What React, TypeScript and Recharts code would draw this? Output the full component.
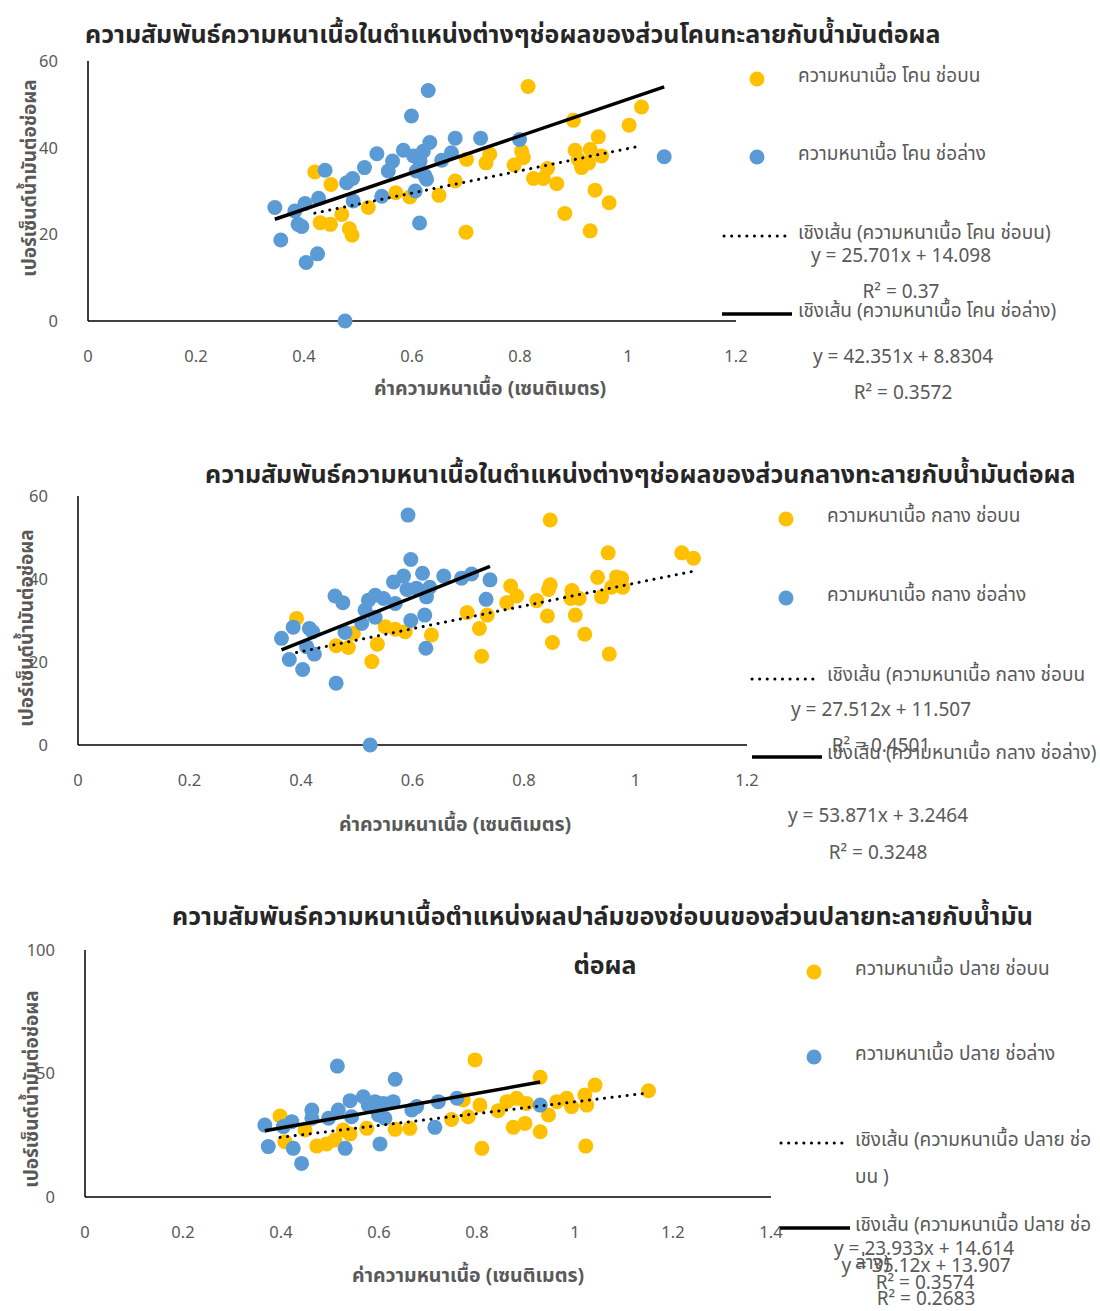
import React from 'react';
import { ScatterChart, Scatter, XAxis, YAxis } from 'recharts';

type Pt = { x: number; y: number };
type Fit = { slope: number; intercept: number };

const FONT = "'Noto Sans Thai', 'Leelawadee UI', 'Noto Sans', Tahoma, sans-serif";
const ORANGE = '#FFC000';
const BLUE = '#5B9BD5';
const GREY = '#595959';

// ส่วนโคนทะลาย (base of bunch)
const baseTop: Pt[] = [
  { x: 0.42, y: 34.4 }, { x: 0.45, y: 31.5 }, { x: 0.43, y: 22.7 }, { x: 0.449, y: 22.3 },
  { x: 0.47, y: 24.6 }, { x: 0.484, y: 21.3 }, { x: 0.489, y: 19.8 }, { x: 0.519, y: 26.2 },
  { x: 0.57, y: 29.6 }, { x: 0.596, y: 28.6 }, { x: 0.65, y: 29.0 }, { x: 0.68, y: 32.3 },
  { x: 0.701, y: 37.3 }, { x: 0.7, y: 20.5 }, { x: 0.737, y: 36.5 }, { x: 0.744, y: 38.5 },
  { x: 0.789, y: 36.0 }, { x: 0.803, y: 39.2 }, { x: 0.806, y: 37.7 }, { x: 0.815, y: 54.1 },
  { x: 0.825, y: 32.9 }, { x: 0.843, y: 32.9 }, { x: 0.851, y: 35.2 }, { x: 0.868, y: 31.7 },
  { x: 0.883, y: 24.8 }, { x: 0.899, y: 46.3 }, { x: 0.902, y: 39.4 }, { x: 0.908, y: 37.3 },
  { x: 0.914, y: 35.4 }, { x: 0.927, y: 36.5 }, { x: 0.93, y: 39.6 }, { x: 0.939, y: 30.2 },
  { x: 0.93, y: 20.8 }, { x: 0.945, y: 42.5 }, { x: 0.951, y: 38.1 }, { x: 0.965, y: 27.3 },
  { x: 1.002, y: 45.2 }, { x: 1.025, y: 49.4 },
];
const baseBottom: Pt[] = [
  { x: 0.346, y: 26.2 }, { x: 0.357, y: 18.7 }, { x: 0.383, y: 25.4 }, { x: 0.389, y: 22.3 },
  { x: 0.396, y: 21.8 }, { x: 0.402, y: 27.1 }, { x: 0.404, y: 13.5 }, { x: 0.425, y: 15.5 },
  { x: 0.427, y: 28.3 }, { x: 0.439, y: 34.8 }, { x: 0.479, y: 31.9 }, { x: 0.49, y: 32.9 },
  { x: 0.491, y: 27.7 }, { x: 0.512, y: 35.4 }, { x: 0.535, y: 38.6 }, { x: 0.544, y: 28.8 },
  { x: 0.556, y: 34.6 }, { x: 0.564, y: 36.9 }, { x: 0.584, y: 39.4 }, { x: 0.599, y: 47.3 },
  { x: 0.603, y: 38.1 }, { x: 0.614, y: 22.6 }, { x: 0.606, y: 30.0 }, { x: 0.615, y: 36.9 },
  { x: 0.624, y: 33.5 }, { x: 0.621, y: 39.2 }, { x: 0.63, y: 53.2 }, { x: 0.633, y: 41.2 },
  { x: 0.655, y: 37.1 }, { x: 0.673, y: 38.8 }, { x: 0.68, y: 42.2 }, { x: 0.727, y: 42.2 },
  { x: 0.799, y: 41.9 }, { x: 1.067, y: 37.9 }, { x: 0.608, y: 34.6 }, { x: 0.627, y: 32.7 },
  { x: 0.476, y: 0 },
];
const baseTopFit: Fit = { slope: 25.701, intercept: 14.098 };
const baseBottomFit: Fit = { slope: 42.351, intercept: 8.8304 };

// ส่วนกลางทะลาย (middle of bunch)
const midTop: Pt[] = [
  { x: 0.392, y: 30.5 }, { x: 0.463, y: 23.9 }, { x: 0.485, y: 23.5 }, { x: 0.494, y: 26.9 },
  { x: 0.527, y: 20.1 }, { x: 0.537, y: 24.3 }, { x: 0.551, y: 28.5 }, { x: 0.569, y: 27.9 },
  { x: 0.587, y: 27.3 }, { x: 0.634, y: 26.5 }, { x: 0.698, y: 31.9 }, { x: 0.72, y: 28.1 },
  { x: 0.724, y: 21.4 }, { x: 0.734, y: 31.3 }, { x: 0.769, y: 34.3 }, { x: 0.776, y: 38.3 },
  { x: 0.787, y: 35.9 }, { x: 0.823, y: 34.8 }, { x: 0.842, y: 31.1 }, { x: 0.844, y: 37.5 },
  { x: 0.847, y: 38.6 }, { x: 0.847, y: 54.2 }, { x: 0.851, y: 24.7 }, { x: 0.886, y: 37.2 },
  { x: 0.884, y: 35.3 }, { x: 0.892, y: 31.3 }, { x: 0.899, y: 35.3 }, { x: 0.909, y: 26.7 },
  { x: 0.932, y: 40.4 }, { x: 0.939, y: 35.7 }, { x: 0.951, y: 46.3 }, { x: 0.953, y: 21.9 },
  { x: 0.957, y: 38.0 }, { x: 0.966, y: 40.5 }, { x: 0.975, y: 40.2 }, { x: 0.977, y: 38.0 },
  { x: 1.083, y: 46.3 }, { x: 1.104, y: 45.0 },
];
const midBottom: Pt[] = [
  { x: 0.365, y: 25.7 }, { x: 0.379, y: 20.6 }, { x: 0.386, y: 28.4 }, { x: 0.403, y: 18.2 },
  { x: 0.415, y: 28.1 }, { x: 0.421, y: 27.3 }, { x: 0.41, y: 23.7 }, { x: 0.424, y: 21.9 },
  { x: 0.461, y: 35.9 }, { x: 0.463, y: 14.9 }, { x: 0.475, y: 34.3 }, { x: 0.479, y: 27.1 },
  { x: 0.509, y: 29.3 }, { x: 0.515, y: 32.5 }, { x: 0.521, y: 34.9 }, { x: 0.533, y: 36.1 },
  { x: 0.533, y: 30.8 }, { x: 0.548, y: 35.3 }, { x: 0.566, y: 39.3 }, { x: 0.569, y: 34.1 },
  { x: 0.584, y: 40.7 }, { x: 0.59, y: 37.5 }, { x: 0.592, y: 55.4 }, { x: 0.597, y: 44.7 },
  { x: 0.597, y: 30.0 }, { x: 0.607, y: 37.8 }, { x: 0.618, y: 41.4 }, { x: 0.622, y: 31.3 },
  { x: 0.625, y: 35.7 }, { x: 0.624, y: 23.3 }, { x: 0.631, y: 38.0 }, { x: 0.656, y: 40.7 },
  { x: 0.688, y: 40.2 }, { x: 0.706, y: 41.2 }, { x: 0.732, y: 35.1 }, { x: 0.739, y: 39.8 },
  { x: 0.524, y: 0 },
];
const midTopFit: Fit = { slope: 27.512, intercept: 11.507 };
const midBottomFit: Fit = { slope: 53.871, intercept: 3.2464 };

// ส่วนปลายทะลาย (tip of bunch)
const tipTop: Pt[] = [
  { x: 0.398, y: 32.8 }, { x: 0.408, y: 22.4 }, { x: 0.449, y: 27.1 }, { x: 0.473, y: 20.6 },
  { x: 0.493, y: 21.5 }, { x: 0.51, y: 23.1 }, { x: 0.527, y: 27.1 }, { x: 0.541, y: 25.5 },
  { x: 0.575, y: 27.8 }, { x: 0.633, y: 27.4 }, { x: 0.663, y: 27.8 }, { x: 0.748, y: 31.4 },
  { x: 0.772, y: 39.3 }, { x: 0.782, y: 32.5 }, { x: 0.796, y: 55.5 }, { x: 0.806, y: 37.2 },
  { x: 0.81, y: 19.7 }, { x: 0.843, y: 34.9 }, { x: 0.861, y: 38.6 }, { x: 0.874, y: 28.2 },
  { x: 0.881, y: 40.0 }, { x: 0.898, y: 29.8 }, { x: 0.901, y: 37.9 }, { x: 0.929, y: 48.5 },
  { x: 0.929, y: 26.4 }, { x: 0.946, y: 33.2 }, { x: 0.963, y: 38.6 }, { x: 0.983, y: 40.0 },
  { x: 0.993, y: 36.6 }, { x: 1.02, y: 41.3 }, { x: 1.024, y: 37.2 }, { x: 1.022, y: 20.6 },
  { x: 1.041, y: 45.3 }, { x: 1.15, y: 43.0 },
];
const tipBottom: Pt[] = [
  { x: 0.367, y: 29.1 }, { x: 0.374, y: 20.4 }, { x: 0.405, y: 28.5 }, { x: 0.422, y: 30.5 },
  { x: 0.425, y: 19.7 }, { x: 0.442, y: 13.6 }, { x: 0.463, y: 35.2 }, { x: 0.463, y: 31.9 },
  { x: 0.497, y: 31.9 }, { x: 0.515, y: 53.0 }, { x: 0.517, y: 35.2 }, { x: 0.531, y: 19.7 },
  { x: 0.541, y: 39.0 }, { x: 0.544, y: 32.5 }, { x: 0.568, y: 40.6 }, { x: 0.578, y: 37.2 },
  { x: 0.592, y: 38.6 }, { x: 0.599, y: 33.2 }, { x: 0.602, y: 21.5 }, { x: 0.609, y: 37.9 },
  { x: 0.629, y: 38.6 }, { x: 0.633, y: 47.7 }, { x: 0.612, y: 31.9 }, { x: 0.667, y: 35.2 },
  { x: 0.677, y: 36.6 }, { x: 0.714, y: 28.2 }, { x: 0.721, y: 38.6 }, { x: 0.759, y: 40.0 },
  { x: 0.929, y: 37.2 },
];
const tipTopFit: Fit = { slope: 23.933, intercept: 14.614 };
const tipBottomFit: Fit = { slope: 35.12, intercept: 13.907 };

const ticks12 = [0, 0.2, 0.4, 0.6, 0.8, 1, 1.2];
const ticks14 = [0, 0.2, 0.4, 0.6, 0.8, 1, 1.2, 1.4];
const ticks60 = [0, 20, 40, 60];
const ticks100 = [0, 50, 100];

// straight segment of a linear fit, spanning the x-range of its series
function fitLine(points: Pt[], fit: Fit): Pt[] {
  const xs = points.map((p) => p.x);
  const x0 = Math.min(...xs);
  const x1 = Math.max(...xs);
  return [
    { x: x0, y: fit.slope * x0 + fit.intercept },
    { x: x1, y: fit.slope * x1 + fit.intercept },
  ];
}

const dot = (color: string) => (p: any) => <circle cx={p.cx} cy={p.cy} r={7.5} fill={color} />;
const noDot = () => <g />;

type PanelProps = {
  top: number;
  height: number;
  plot: { left: number; right: number; top: number; bottom: number };
  xMax: number;
  xTicks: number[];
  yMax: number;
  yTicks: number[];
  upper: Pt[];
  lower: Pt[];
  upperFit: Fit;
  lowerFit: Fit;
};

function Panel({ top, height, plot, xMax, xTicks, yMax, yTicks, upper, lower, upperFit, lowerFit }: PanelProps) {
  const yAxisW = 60;
  const xAxisH = 40;
  const margin = {
    top: plot.top - top,
    left: plot.left - yAxisW,
    right: 1100 - plot.right,
    bottom: top + height - plot.bottom - xAxisH,
  };
  const axisLine = { stroke: '#000', strokeWidth: 1.5 };
  const tick = { fill: GREY, fontSize: 16.5, fontFamily: FONT };
  return (
    <div style={{ position: 'absolute', left: 0, top, width: 1100, height }}>
      <ScatterChart width={1100} height={height} margin={margin}>
        <XAxis
          type="number"
          dataKey="x"
          domain={[0, xMax]}
          ticks={xTicks}
          interval={0}
          height={xAxisH}
          tickLine={false}
          axisLine={axisLine}
          tick={tick}
          tickMargin={23}
          tickFormatter={(v: number) => String(v)}
        />
        <YAxis
          type="number"
          dataKey="y"
          domain={[0, yMax]}
          ticks={yTicks}
          interval={0}
          width={yAxisW}
          tickLine={false}
          axisLine={axisLine}
          tick={tick}
          tickMargin={24}
        />
        <Scatter data={upper} fill={ORANGE} shape={dot(ORANGE)} isAnimationActive={false} />
        <Scatter data={lower} fill={BLUE} shape={dot(BLUE)} isAnimationActive={false} />
        <Scatter
          data={fitLine(upper, upperFit)}
          shape={noDot}
          line={{ stroke: '#000', strokeWidth: 3, strokeDasharray: '0.1 7.5', strokeLinecap: 'round' }}
          isAnimationActive={false}
        />
        <Scatter
          data={fitLine(lower, lowerFit)}
          shape={noDot}
          line={{ stroke: '#000', strokeWidth: 3.5 }}
          isAnimationActive={false}
        />
      </ScatterChart>
    </div>
  );
}

type TxtProps = {
  x: number;
  y: number;
  size?: number;
  bold?: boolean;
  color?: string;
  center?: boolean;
  children: React.ReactNode;
};

function Txt({ x, y, size = 19, bold = false, color = GREY, center = false, children }: TxtProps) {
  return (
    <div
      style={{
        position: 'absolute',
        left: x,
        top: y,
        transform: center ? 'translate(-50%, -50%)' : 'translateY(-50%)',
        fontSize: size,
        fontWeight: bold ? 700 : 400,
        color,
        whiteSpace: 'nowrap',
        lineHeight: 1,
      }}
    >
      {children}
    </div>
  );
}

function VTitle({ x, y }: { x: number; y: number }) {
  return (
    <div
      style={{
        position: 'absolute',
        left: x,
        top: y,
        transform: 'translate(-50%, -50%) rotate(-90deg)',
        fontSize: 19,
        fontWeight: 700,
        color: GREY,
        whiteSpace: 'nowrap',
        lineHeight: 1,
      }}
    >
      เปอร์เซ็นต์น้ำมันต่อช่อผล
    </div>
  );
}

function Marker({ x, y, color }: { x: number; y: number; color: string }) {
  return (
    <svg style={{ position: 'absolute', left: x - 8, top: y - 8 }} width={16} height={16}>
      <circle cx={8} cy={8} r={7.5} fill={color} />
    </svg>
  );
}

function LegendLine({ x1, x2, y, dotted }: { x1: number; x2: number; y: number; dotted?: boolean }) {
  return (
    <svg style={{ position: 'absolute', left: x1, top: y - 3 }} width={x2 - x1} height={6}>
      {dotted ? (
        <line x1={2} y1={3} x2={x2 - x1 - 2} y2={3} stroke="#000" strokeWidth={3} strokeDasharray="0.1 7.5" strokeLinecap="round" />
      ) : (
        <line x1={0} y1={3} x2={x2 - x1} y2={3} stroke="#000" strokeWidth={3.5} />
      )}
    </svg>
  );
}

const xTitle = 'ค่าความหนาเนื้อ (เซนติเมตร)';
const TITLE = '#262626';

export default function App() {
  return (
    <div
      style={{
        position: 'absolute',
        left: 0,
        top: 0,
        width: 1100,
        height: 1311,
        background: '#fff',
        fontFamily: FONT,
        overflow: 'hidden',
      }}
    >
      {/* chart 1: base */}
      <Panel
        top={0}
        height={440}
        plot={{ left: 88, right: 736, top: 61, bottom: 321 }}
        xMax={1.2}
        xTicks={ticks12}
        yMax={60}
        yTicks={ticks60}
        upper={baseTop}
        lower={baseBottom}
        upperFit={baseTopFit}
        lowerFit={baseBottomFit}
      />
      <Txt x={85} y={35} size={25} bold color={TITLE}>
        ความสัมพันธ์ความหนาเนื้อในตำแหน่งต่างๆช่อผลของส่วนโคนทะลายกับน้ำมันต่อผล
      </Txt>
      <VTitle x={30} y={178} />
      <Txt x={490} y={390} size={19.5} bold center>{xTitle}</Txt>
      <Marker x={757} y={79} color={ORANGE} />
      <Txt x={798} y={76}>ความหนาเนื้อ โคน ช่อบน</Txt>
      <Marker x={757} y={157} color={BLUE} />
      <Txt x={798} y={154}>ความหนาเนื้อ โคน ช่อล่าง</Txt>
      <LegendLine x1={722} x2={792} y={236} dotted />
      <Txt x={798} y={233}>เชิงเส้น (ความหนาเนื้อ โคน ช่อบน)</Txt>
      <Txt x={901} y={256} center>y = 25.701x + 14.098</Txt>
      <Txt x={901} y={292} center>R² = 0.37</Txt>
      <LegendLine x1={722} x2={792} y={314} />
      <Txt x={798} y={311}>เชิงเส้น (ความหนาเนื้อ โคน ช่อล่าง)</Txt>
      <Txt x={903} y={357} center>y = 42.351x + 8.8304</Txt>
      <Txt x={903} y={393} center>R² = 0.3572</Txt>

      {/* chart 2: middle */}
      <Panel
        top={440}
        height={430}
        plot={{ left: 78, right: 747, top: 496, bottom: 745 }}
        xMax={1.2}
        xTicks={ticks12}
        yMax={60}
        yTicks={ticks60}
        upper={midTop}
        lower={midBottom}
        upperFit={midTopFit}
        lowerFit={midBottomFit}
      />
      <Txt x={205} y={475} size={25} bold color={TITLE}>
        ความสัมพันธ์ความหนาเนื้อในตำแหน่งต่างๆช่อผลของส่วนกลางทะลายกับน้ำมันต่อผล
      </Txt>
      <VTitle x={27} y={628} />
      <Txt x={455} y={826} size={19.5} bold center>{xTitle}</Txt>
      <Marker x={786} y={519} color={ORANGE} />
      <Txt x={827} y={516}>ความหนาเนื้อ กลาง ช่อบน</Txt>
      <Marker x={786} y={598} color={BLUE} />
      <Txt x={827} y={595}>ความหนาเนื้อ กลาง ช่อล่าง</Txt>
      <LegendLine x1={750} x2={821} y={679} dotted />
      <Txt x={827} y={675}>เชิงเส้น (ความหนาเนื้อ กลาง ช่อบน</Txt>
      <Txt x={881} y={710} center>y = 27.512x + 11.507</Txt>
      <Txt x={881} y={746} center>R² = 0.4501</Txt>
      <LegendLine x1={752} x2={822} y={757} />
      <Txt x={827} y={753}>เชิงเส้น (ความหนาเนื้อ กลาง ช่อล่าง)</Txt>
      <Txt x={878} y={816} center>y = 53.871x + 3.2464</Txt>
      <Txt x={878} y={853} center>R² = 0.3248</Txt>

      {/* chart 3: tip */}
      <Panel
        top={870}
        height={441}
        plot={{ left: 85, right: 771, top: 950, bottom: 1197 }}
        xMax={1.4}
        xTicks={ticks14}
        yMax={100}
        yTicks={ticks100}
        upper={tipTop}
        lower={tipBottom}
        upperFit={tipTopFit}
        lowerFit={tipBottomFit}
      />
      <Txt x={172} y={917} size={25} bold color={TITLE}>
        ความสัมพันธ์ความหนาเนื้อตำแหน่งผลปาล์มของช่อบนของส่วนปลายทะลายกับน้ำมัน
      </Txt>
      <Txt x={605} y={966} size={25} bold color={TITLE} center>ต่อผล</Txt>
      <VTitle x={32} y={1089} />
      <Txt x={468} y={1277} size={19.5} bold center>{xTitle}</Txt>
      <Marker x={814} y={972} color={ORANGE} />
      <Txt x={855} y={969}>ความหนาเนื้อ ปลาย ช่อบน</Txt>
      <Marker x={814} y={1057} color={BLUE} />
      <Txt x={855} y={1054}>ความหนาเนื้อ ปลาย ช่อล่าง</Txt>
      <LegendLine x1={779} x2={849} y={1143} dotted />
      <Txt x={855} y={1140}>เชิงเส้น (ความหนาเนื้อ ปลาย ช่อ</Txt>
      <Txt x={855} y={1177}>บน )</Txt>
      <LegendLine x1={780} x2={850} y={1228} />
      <Txt x={855} y={1225}>เชิงเส้น (ความหนาเนื้อ ปลาย ช่อ</Txt>
      <Txt x={855} y={1263}>ล่าง)</Txt>
      <Txt x={924} y={1249} center>y = 23.933x + 14.614</Txt>
      <Txt x={926} y={1266} center>y = 35.12x + 13.907</Txt>
      <Txt x={925} y={1283} center>R² = 0.3574</Txt>
      <Txt x={926} y={1299} center>R² = 0.2683</Txt>
    </div>
  );
}
